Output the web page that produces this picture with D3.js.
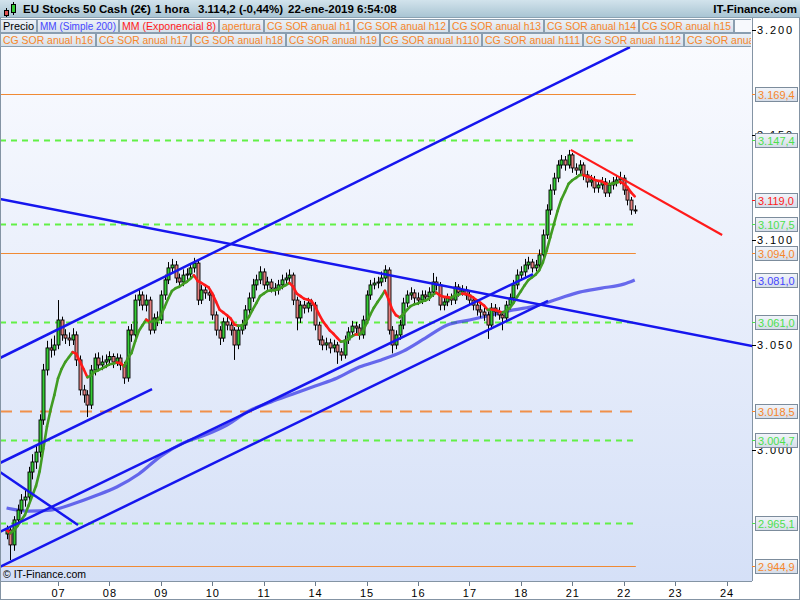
<!DOCTYPE html>
<html><head><meta charset="utf-8">
<script src="https://cdn.jsdelivr.net/npm/d3@7"></script>
<style>body{margin:0;background:#fff}svg{display:block;font-family:"Liberation Sans",Arial,sans-serif}</style>
</head><body><svg id="c" width="800" height="600"></svg>
<script>
// ---------- DATA ----------
const dayLabels = ["07","08","09","10","11","14","15","16","17","18","21","22","23","24"];
const dayStart  = [14,28,42,56,70,84,98,112,126,140,154,168,182,196];

const opens = [
2960.0,2961.9,2954.8,2966.7,2971.4,2976.2,2977.6,2989.5,2994.3,2999.0,3014.3,3038.1,3048.6,3047.6,
3050.0,3061.9,3054.8,3053.3,3052.4,3054.8,3042.9,3028.6,3026.2,3021.4,3038.1,3043.8,3040.5,3041.9,
3042.9,3044.5,3041.9,3043.8,3040.5,3034.3,3057.1,3054.8,3071.4,3073.8,3069.0,3071.4,3057.1,3062.9,
3061.9,3073.8,3081.0,3086.7,3088.1,3081.9,3080.0,3083.3,3083.8,3086.7,3089.0,3071.4,3076.2,3074.8,
3073.8,3064.3,3057.1,3053.3,3061.0,3059.5,3057.1,3050.0,3057.1,3059.5,3066.7,3072.4,3078.6,3081.0,
3084.8,3078.6,3080.0,3077.1,3076.2,3078.6,3081.0,3081.9,3083.3,3071.4,3062.9,3069.0,3067.6,3070.0,
3069.0,3059.5,3052.4,3050.0,3051.0,3048.6,3050.0,3046.7,3045.2,3052.4,3056.2,3059.0,3058.1,3054.8,
3061.9,3073.8,3078.6,3079.5,3080.0,3081.9,3085.7,3057.1,3050.0,3054.8,3059.5,3070.0,3073.8,3074.8,
3072.4,3071.4,3073.8,3072.9,3075.2,3080.0,3078.6,3069.0,3070.5,3072.4,3071.4,3077.6,3075.2,3076.2,
3073.8,3071.4,3069.0,3066.7,3065.7,3064.3,3059.5,3067.6,3065.7,3064.3,3062.9,3069.0,3072.4,3078.6,
3083.3,3084.8,3088.1,3089.5,3086.7,3088.1,3092.9,3102.4,3114.3,3123.8,3129.5,3135.7,3138.1,3135.7,
3140.5,3134.3,3133.3,3135.7,3131.0,3127.6,3128.6,3124.8,3126.2,3127.6,3122.4,3126.2,3127.6,3128.6,
3129.5,3123.8,3119.0,3114.3];
const highs = [
2964.0,2963.0,2968.5,2974.0,2979.0,2981.0,2992.0,2998.0,3002.5,3017.0,3041.0,3052.0,3053.0,3054.5,
3071.4,3063.5,3057.5,3056.0,3058.0,3056.5,3045.0,3031.0,3028.5,3040.5,3046.0,3046.5,3045.0,3045.5,
3047.0,3046.0,3046.0,3045.5,3042.0,3059.0,3060.0,3074.0,3076.5,3075.5,3074.0,3073.0,3065.0,3066.0,
3076.0,3083.5,3089.5,3091.0,3090.0,3084.0,3086.0,3086.5,3089.0,3091.5,3090.0,3078.5,3078.0,3077.0,
3075.0,3066.0,3059.0,3063.0,3063.5,3061.5,3058.5,3059.5,3062.0,3069.0,3075.0,3081.5,3083.5,3087.5,
3086.5,3082.5,3081.5,3079.5,3081.0,3083.5,3084.5,3086.0,3084.5,3073.0,3071.0,3071.0,3072.5,3072.0,
3070.5,3061.0,3054.5,3053.5,3053.0,3052.5,3051.5,3048.5,3054.5,3058.5,3061.5,3061.0,3060.0,3064.0,
3076.0,3081.0,3082.0,3082.5,3085.0,3088.0,3087.0,3059.0,3057.0,3062.0,3072.5,3076.0,3077.5,3076.5,
3075.0,3076.0,3076.0,3077.5,3084.3,3082.5,3080.0,3073.0,3074.5,3074.5,3080.0,3079.0,3078.5,3078.0,
3075.5,3073.0,3071.0,3069.5,3068.0,3066.0,3070.0,3069.5,3068.0,3066.0,3071.0,3074.5,3081.0,3086.0,
3087.5,3091.0,3092.0,3091.0,3090.5,3095.5,3105.0,3117.0,3126.5,3132.0,3138.0,3140.5,3140.0,3142.9,
3141.5,3136.5,3138.0,3137.0,3133.0,3131.0,3130.5,3128.5,3130.0,3129.5,3128.5,3130.0,3131.0,3132.5,
3131.0,3125.5,3120.5,3116.5];
const lows = [
2957.5,2947.6,2952.0,2964.5,2969.5,2973.0,2975.5,2986.0,2991.0,2996.5,3012.0,3035.5,3044.0,3045.0,
3048.0,3052.0,3050.5,3049.5,3050.0,3040.0,3026.0,3022.5,3015.7,3019.5,3035.5,3038.0,3038.0,3039.0,
3040.0,3039.0,3040.0,3038.0,3031.5,3032.5,3051.5,3053.0,3068.5,3066.5,3066.0,3055.0,3055.5,3059.0,
3060.0,3071.5,3079.0,3084.0,3079.5,3077.5,3078.0,3081.0,3082.0,3084.5,3069.0,3069.5,3072.0,3071.0,
3062.0,3054.5,3050.0,3051.5,3057.0,3054.5,3042.9,3048.0,3055.0,3057.5,3064.5,3070.5,3076.0,3079.0,
3076.5,3076.0,3075.0,3073.5,3074.0,3076.5,3079.0,3079.5,3069.0,3057.0,3060.5,3065.0,3065.5,3066.0,
3057.0,3050.0,3047.5,3047.5,3046.0,3046.5,3041.0,3042.5,3043.5,3050.5,3054.0,3055.5,3052.5,3053.0,
3060.0,3071.5,3076.5,3077.0,3078.0,3080.0,3055.0,3046.0,3048.0,3052.5,3057.5,3068.0,3071.5,3070.0,
3069.0,3069.5,3070.5,3071.0,3073.0,3076.0,3066.5,3066.5,3068.5,3069.0,3069.5,3073.0,3073.5,3071.5,
3069.0,3066.5,3064.0,3063.0,3061.5,3052.9,3057.5,3063.5,3062.0,3057.0,3061.0,3067.0,3070.5,3076.5,
3081.0,3082.5,3086.0,3084.5,3085.0,3086.0,3091.0,3100.5,3112.0,3121.5,3127.5,3134.0,3133.0,3134.0,
3132.0,3131.0,3131.5,3128.5,3125.0,3125.5,3122.5,3122.5,3124.0,3120.5,3120.5,3124.0,3125.5,3126.5,
3121.5,3116.5,3112.0,3112.5];
const closes = [
2961.9,2954.8,2966.7,2971.4,2976.2,2977.6,2989.5,2994.3,2999.0,3014.3,3038.1,3048.6,3047.6,3050.0,
3061.9,3054.8,3053.3,3052.4,3054.8,3042.9,3028.6,3026.2,3021.4,3038.1,3043.8,3040.5,3041.9,3042.9,
3044.5,3041.9,3043.8,3040.5,3034.3,3057.1,3054.8,3071.4,3073.8,3069.0,3071.4,3057.1,3062.9,3061.9,
3073.8,3081.0,3086.7,3088.1,3081.9,3080.0,3083.3,3083.8,3086.7,3089.0,3071.4,3076.2,3074.8,3073.8,
3064.3,3057.1,3053.3,3061.0,3059.5,3057.1,3050.0,3057.1,3059.5,3066.7,3072.4,3078.6,3081.0,3084.8,
3078.6,3080.0,3077.1,3076.2,3078.6,3081.0,3081.9,3083.3,3071.4,3062.9,3069.0,3067.6,3070.0,3069.0,
3059.5,3052.4,3050.0,3051.0,3048.6,3050.0,3046.7,3045.2,3052.4,3056.2,3059.0,3058.1,3054.8,3061.9,
3073.8,3078.6,3079.5,3080.0,3081.9,3085.7,3057.1,3050.0,3054.8,3059.5,3070.0,3073.8,3074.8,3072.4,
3071.4,3073.8,3072.9,3075.2,3080.0,3078.6,3069.0,3070.5,3072.4,3071.4,3077.6,3075.2,3076.2,3073.8,
3071.4,3069.0,3066.7,3065.7,3064.3,3059.5,3067.6,3065.7,3064.3,3062.9,3069.0,3072.4,3078.6,3083.3,
3084.8,3088.1,3089.5,3086.7,3088.1,3092.9,3102.4,3114.3,3123.8,3129.5,3135.7,3138.1,3135.7,3140.5,
3134.3,3133.3,3135.7,3131.0,3127.6,3128.6,3124.8,3126.2,3127.6,3122.4,3126.2,3127.6,3128.6,3129.5,
3123.8,3119.0,3114.3,3114.2];

// Simple moving average 200 (at these candle positions)
const smaIndex  = [0,6,12,18,24,30,36,42,48,54,60,66,72,78,84,90,96,102,108,114,120,126,132,138,144,150,156,162,168,171];
const smaValues = [2972.4,2970.9,2971.4,2974.3,2978.1,2982.4,2988.6,2997.1,3003.3,3007.1,3011.9,3018.6,3022.9,3026.7,3030.5,3034.3,3039.5,3042.9,3047.1,3053.3,3059.5,3061.9,3064.3,3066.7,3068.6,3071.9,3075.2,3077.1,3079.0,3081.0];
const emaPeriod = 8;

// horizontal levels
const levelValues = [3169.4, 3147.4, 3107.5, 3094.0, 3061.0, 3018.5, 3004.7, 2965.1, 2944.9];
const levelKinds  = ["orange","green","green","orange","green","orangeDash","green","green","orange"];
const levelEndIndex = 171.3;

// trend lines (candle index, price)
const trendX1 = [-1.8, -1.8, -1.8, -1.8, -1.8, -1.8, 153.6];
const trendY1 = [3043.8, 2993.8, 2944.3, 2961.0, 3119.5, 2989.5, 3142.9];
const trendX2 = [169.7, 39.6, 147.4, 143.3, 203.0, 19.45, 194.8];
const trendY2 = [3191.9, 3029.0, 3071.0, 3083.8, 3049.5, 2964.3, 3102.4];
const trendKinds = ["blue","blue","blue","blue","blue","blue","red"];

// right-axis
const axisTicks = [3000, 3050, 3100, 3150, 3200];
const markerValues = [3169.4, 3147.4, 3119.0, 3107.5, 3094.0, 3081.0, 3061.0, 3018.5, 3004.7, 2965.1, 2944.9];
const markerKinds  = ["orange","green","red","green","orange","blue","green","orange","green","green","orange"];

// header & legend text
const headerParts = ["EU Stocks 50 Cash (2€)", "1 hora", "3.114,2 (-0,44%)", "22-ene-2019 6:54:08"];
const brand = "IT-Finance.com";
const copyright = "© IT-Finance.com";
const legendRow1 = ["Precio","MM (Simple 200)","MM (Exponencial 8)","apertura","CG SOR anual h1","CG SOR anual h12","CG SOR anual h13","CG SOR anual h14","CG SOR anual h15",""];
const legendRow1Kinds = ["black","blue","red","orange","orange","orange","orange","orange","orange","blank"];
const legendRow2 = ["CG SOR anual h16","CG SOR anual h17","CG SOR anual h18","CG SOR anual h19","CG SOR anual h110","CG SOR anual h111","CG SOR anual h112","CG SOR anual h113"];

// ---------- STYLE / LAYOUT ----------
const textColor = {black:"#000", blue:"#4646ff", red:"#ff1a1a", orange:"#f7862a", green:"#4de04d", blank:"#000"};
const P = {left:0, right:752, top:18, bottom:581};
const row1X = [0,37,119,219,264,354,449,544,639,734], row1W = [36,81,99,44,89,94,94,94,94,17];
const row2X = [0,96,191,286,380,482,583,684], row2W = [95,94,94,93,101,100,100,100];
const headerX = [23,155,198,288];

const svg = d3.select("#c");
const loc = d3.formatLocale({decimal:",", thousands:".", grouping:[3], currency:["",""]});
const fTick = loc.format(",.0f"), fVal = loc.format(",.1f");

const x = d3.scaleLinear().domain([14,168]).range([58,623.7]);
const y = d3.scaleLinear().domain([3000,3100]).range([450,240]);

const defs = svg.append("defs");
function grad(id, stops, x2=0, y2=1){
  const g = defs.append("linearGradient").attr("id",id).attr("x1",0).attr("y1",0).attr("x2",x2).attr("y2",y2);
  stops.forEach(s=>g.append("stop").attr("offset",s[0]).attr("stop-color",s[1]));
}
grad("hdr",[[0,"#d2e3ec"],[1,"#a7c3d2"]]);
grad("plotbg",[[0,"#fbfcff"],[1,"#d5e0f7"]]);
grad("cell",[[0,"#edf2f7"],[1,"#d6e0ea"]]);
grad("box",[[0,"#f2f5fa"],[1,"#d4dce8"]]);
defs.append("clipPath").attr("id","clip").append("rect")
  .attr("x",P.left).attr("y",P.top).attr("width",P.right-P.left).attr("height",P.bottom-P.top);
defs.append("clipPath").attr("id","legclip").append("rect")
  .attr("x",0).attr("y",0).attr("width",751).attr("height",60);

// backgrounds
svg.append("rect").attr("width",800).attr("height",600).attr("fill","#fff");
svg.append("rect").attr("x",P.left).attr("y",P.top).attr("width",P.right-P.left).attr("height",P.bottom-P.top).attr("fill","url(#plotbg)");

const plot = svg.append("g").attr("clip-path","url(#clip)");

// horizontal levels
const levelStyle = {
  orange:{stroke:"#f08a34", w:1.2, dash:null},
  green:{stroke:"#62f046", w:2, dash:"6,5"},
  orangeDash:{stroke:"#f0904a", w:2, dash:"12,8"}
};
plot.selectAll(".lvl").data(levelValues).join("line")
  .attr("x1",0).attr("x2",x(levelEndIndex))
  .attr("y1",d=>Math.round(y(d))+0.5).attr("y2",d=>Math.round(y(d))+0.5)
  .attr("stroke",(d,i)=>levelStyle[levelKinds[i]].stroke)
  .attr("stroke-width",(d,i)=>levelStyle[levelKinds[i]].w)
  .attr("stroke-dasharray",(d,i)=>levelStyle[levelKinds[i]].dash);

// SMA 200
plot.append("path").datum(smaIndex.map((d,i)=>[d,smaValues[i]]))
  .attr("d", d3.line().x(d=>x(d[0])).y(d=>y(d[1])).curve(d3.curveMonotoneX))
  .attr("fill","none").attr("stroke","#3434e6").attr("stroke-opacity",0.72).attr("stroke-width",3.2);

// candles
const candles = closes.map((c,i)=>({i, o:opens[i], h:highs[i], l:lows[i], c}));
const cg = plot.append("g");
cg.selectAll(".wick").data(candles).join("line")
  .attr("x1",d=>Math.round(x(d.i))+0.5).attr("x2",d=>Math.round(x(d.i))+0.5)
  .attr("y1",d=>y(Math.max(d.h,d.o,d.c))).attr("y2",d=>y(Math.min(d.l,d.o,d.c)))
  .attr("stroke","#000").attr("stroke-width",1);
cg.selectAll(".body").data(candles).join("rect")
  .attr("x",d=>Math.round(x(d.i))-1)
  .attr("width",3)
  .attr("y",d=>y(Math.max(d.o,d.c)))
  .attr("height",d=>Math.max(1,Math.abs(y(d.o)-y(d.c))))
  .attr("fill",d=>d.c>=d.o?"#35cc35":"#e58080")
  .attr("stroke","#000").attr("stroke-width",0.9);

// EMA 8 (computed from closes), coloured by direction
const kE = 2/(emaPeriod+1);
const ema = [];
closes.forEach((c,i)=>{ ema.push(i===0?c:c*kE+ema[i-1]*(1-kE)); });
const segs = d3.range(1,ema.length).map(i=>({i, a:ema[i-1], b:ema[i]}));
plot.append("g").selectAll("line").data(segs).join("line")
  .attr("x1",d=>x(d.i-1)).attr("x2",d=>x(d.i))
  .attr("y1",d=>y(d.a)).attr("y2",d=>y(d.b))
  .attr("stroke",d=>d.b>=d.a?"#419c22":"#ff1a1a")
  .attr("stroke-width",2.6).attr("stroke-linecap","round");

// trend lines
const trendColor = {blue:"#1616ee", red:"#ff1a1a"};
plot.selectAll(".tl").data(trendKinds).join("line")
  .attr("x1",(d,i)=>x(trendX1[i])).attr("y1",(d,i)=>y(trendY1[i]))
  .attr("x2",(d,i)=>x(trendX2[i])).attr("y2",(d,i)=>y(trendY2[i]))
  .attr("stroke",d=>trendColor[d]).attr("stroke-width",d=>d==="red"?2.2:2.5);

// copyright
svg.append("text").attr("x",3).attr("y",578).attr("font-size",11).attr("fill","#000")
  .text(copyright).attr("textLength",83).attr("lengthAdjust","spacingAndGlyphs");

// frame lines
svg.append("line").attr("x1",0.5).attr("x2",0.5).attr("y1",P.top).attr("y2",600).attr("stroke","#8494a4");
svg.append("line").attr("x1",P.right+0.5).attr("x2",P.right+0.5).attr("y1",P.top).attr("y2",P.bottom).attr("stroke","#8494a4");
svg.append("line").attr("x1",0).attr("x2",P.right).attr("y1",P.bottom+0.5).attr("y2",P.bottom+0.5).attr("stroke","#8494a4");
svg.append("line").attr("x1",0).attr("x2",800).attr("y1",599.5).attr("y2",599.5).attr("stroke","#8494a4");
svg.append("line").attr("x1",799.5).attr("x2",799.5).attr("y1",P.top).attr("y2",600).attr("stroke","#8494a4");

// bottom axis
const bx = svg.append("g");
bx.selectAll("line").data(dayStart).join("line")
  .attr("x1",d=>Math.round(x(d))+0.5).attr("x2",d=>Math.round(x(d))+0.5)
  .attr("y1",P.bottom+1).attr("y2",P.bottom+5).attr("stroke","#6a7a8a");
bx.selectAll("text").data(dayLabels).join("text")
  .attr("x",(d,i)=>x(dayStart[i])+0.5).attr("y",597).attr("text-anchor","middle")
  .attr("font-size",11).attr("letter-spacing","1px").attr("fill","#000").text(d=>d);

// right axis ticks (partly covered by the value boxes, as in the original)
const ry = svg.append("g");
ry.selectAll("line").data(axisTicks).join("line")
  .attr("x1",P.right).attr("x2",P.right+4)
  .attr("y1",d=>Math.round(y(d))+0.5).attr("y2",d=>Math.round(y(d))+0.5).attr("stroke","#000");
ry.selectAll("text").data(axisTicks).join("text")
  .attr("x",P.right+5).attr("y",d=>y(d)+4).attr("font-size",11).attr("letter-spacing","1.9px")
  .attr("fill","#000").text(d=>fTick(d));

// value markers
const mk = svg.append("g").selectAll("g").data(markerValues).join("g")
  .attr("transform",d=>`translate(0,${Math.round(y(d))})`);
mk.append("line").attr("x1",P.right).attr("x2",P.right+4).attr("y1",0.5).attr("y2",0.5)
  .attr("stroke",(d,i)=>textColor[markerKinds[i]]);
mk.append("rect").attr("x",P.right+3.5).attr("y",-6.5).attr("width",42).attr("height",14)
  .attr("fill","url(#box)").attr("stroke","#7c8c9c");
mk.append("text").attr("x",P.right+6).attr("y",5).attr("font-size",11)
  .attr("fill",(d,i)=>textColor[markerKinds[i]]).text(d=>fVal(d));

// header
svg.append("rect").attr("x",0).attr("y",0).attr("width",800).attr("height",P.top).attr("fill","url(#hdr)");
svg.append("line").attr("x1",0).attr("x2",800).attr("y1",P.top-0.5).attr("y2",P.top-0.5).attr("stroke","#8aa2b2");
const icon = svg.append("g");
icon.append("line").attr("x1",6.5).attr("x2",6.5).attr("y1",8).attr("y2",17).attr("stroke","#000");
icon.append("rect").attr("x",4.5).attr("y",10.5).attr("width",4).attr("height",5).attr("fill","#e05050").attr("stroke","#000");
icon.append("line").attr("x1",13.5).attr("x2",13.5).attr("y1",2).attr("y2",15).attr("stroke","#000");
icon.append("rect").attr("x",11.5).attr("y",4.5).attr("width",4).attr("height",8).attr("fill","#33cc33").attr("stroke","#000");
svg.selectAll(".hdr").data(headerParts).join("text")
  .attr("x",(d,i)=>headerX[i]).attr("y",13).attr("font-size",11.5).attr("font-weight","bold")
  .attr("fill","#000").text(d=>d);
svg.append("text").attr("x",797).attr("y",13).attr("text-anchor","end").attr("font-size",11.5)
  .attr("font-weight","bold").attr("fill","#000").text(brand);

// legend rows
function legendRow(labels, kinds, xs, ws, top){
  const g = svg.append("g").attr("clip-path","url(#legclip)");
  labels.forEach((lab,i)=>{
    const k = kinds[i];
    g.append("rect").attr("x",xs[i]+0.5).attr("y",top+0.5).attr("width",ws[i]).attr("height",13)
      .attr("fill",k==="blank"?"#f7f9fd":"url(#cell)").attr("stroke","#8a9eb0");
    if(!lab) return;
    const t = g.append("text").attr("x",xs[i]+3).attr("y",top+11).attr("font-size",11.5)
      .attr("fill",textColor[k]).text(lab);
    const avail = ws[i]-5;
    const clipped = xs[i]+ws[i] > 751;
    if(!clipped && t.node().getComputedTextLength()>avail)
      t.attr("textLength",avail).attr("lengthAdjust","spacingAndGlyphs");
    else if (clipped) t.attr("textLength",avail).attr("lengthAdjust","spacingAndGlyphs");
  });
}
legendRow(legendRow1, legendRow1Kinds, row1X, row1W, 19);
legendRow(legendRow2, legendRow2.map(()=>"orange"), row2X, row2W, 33);
</script></body></html>
